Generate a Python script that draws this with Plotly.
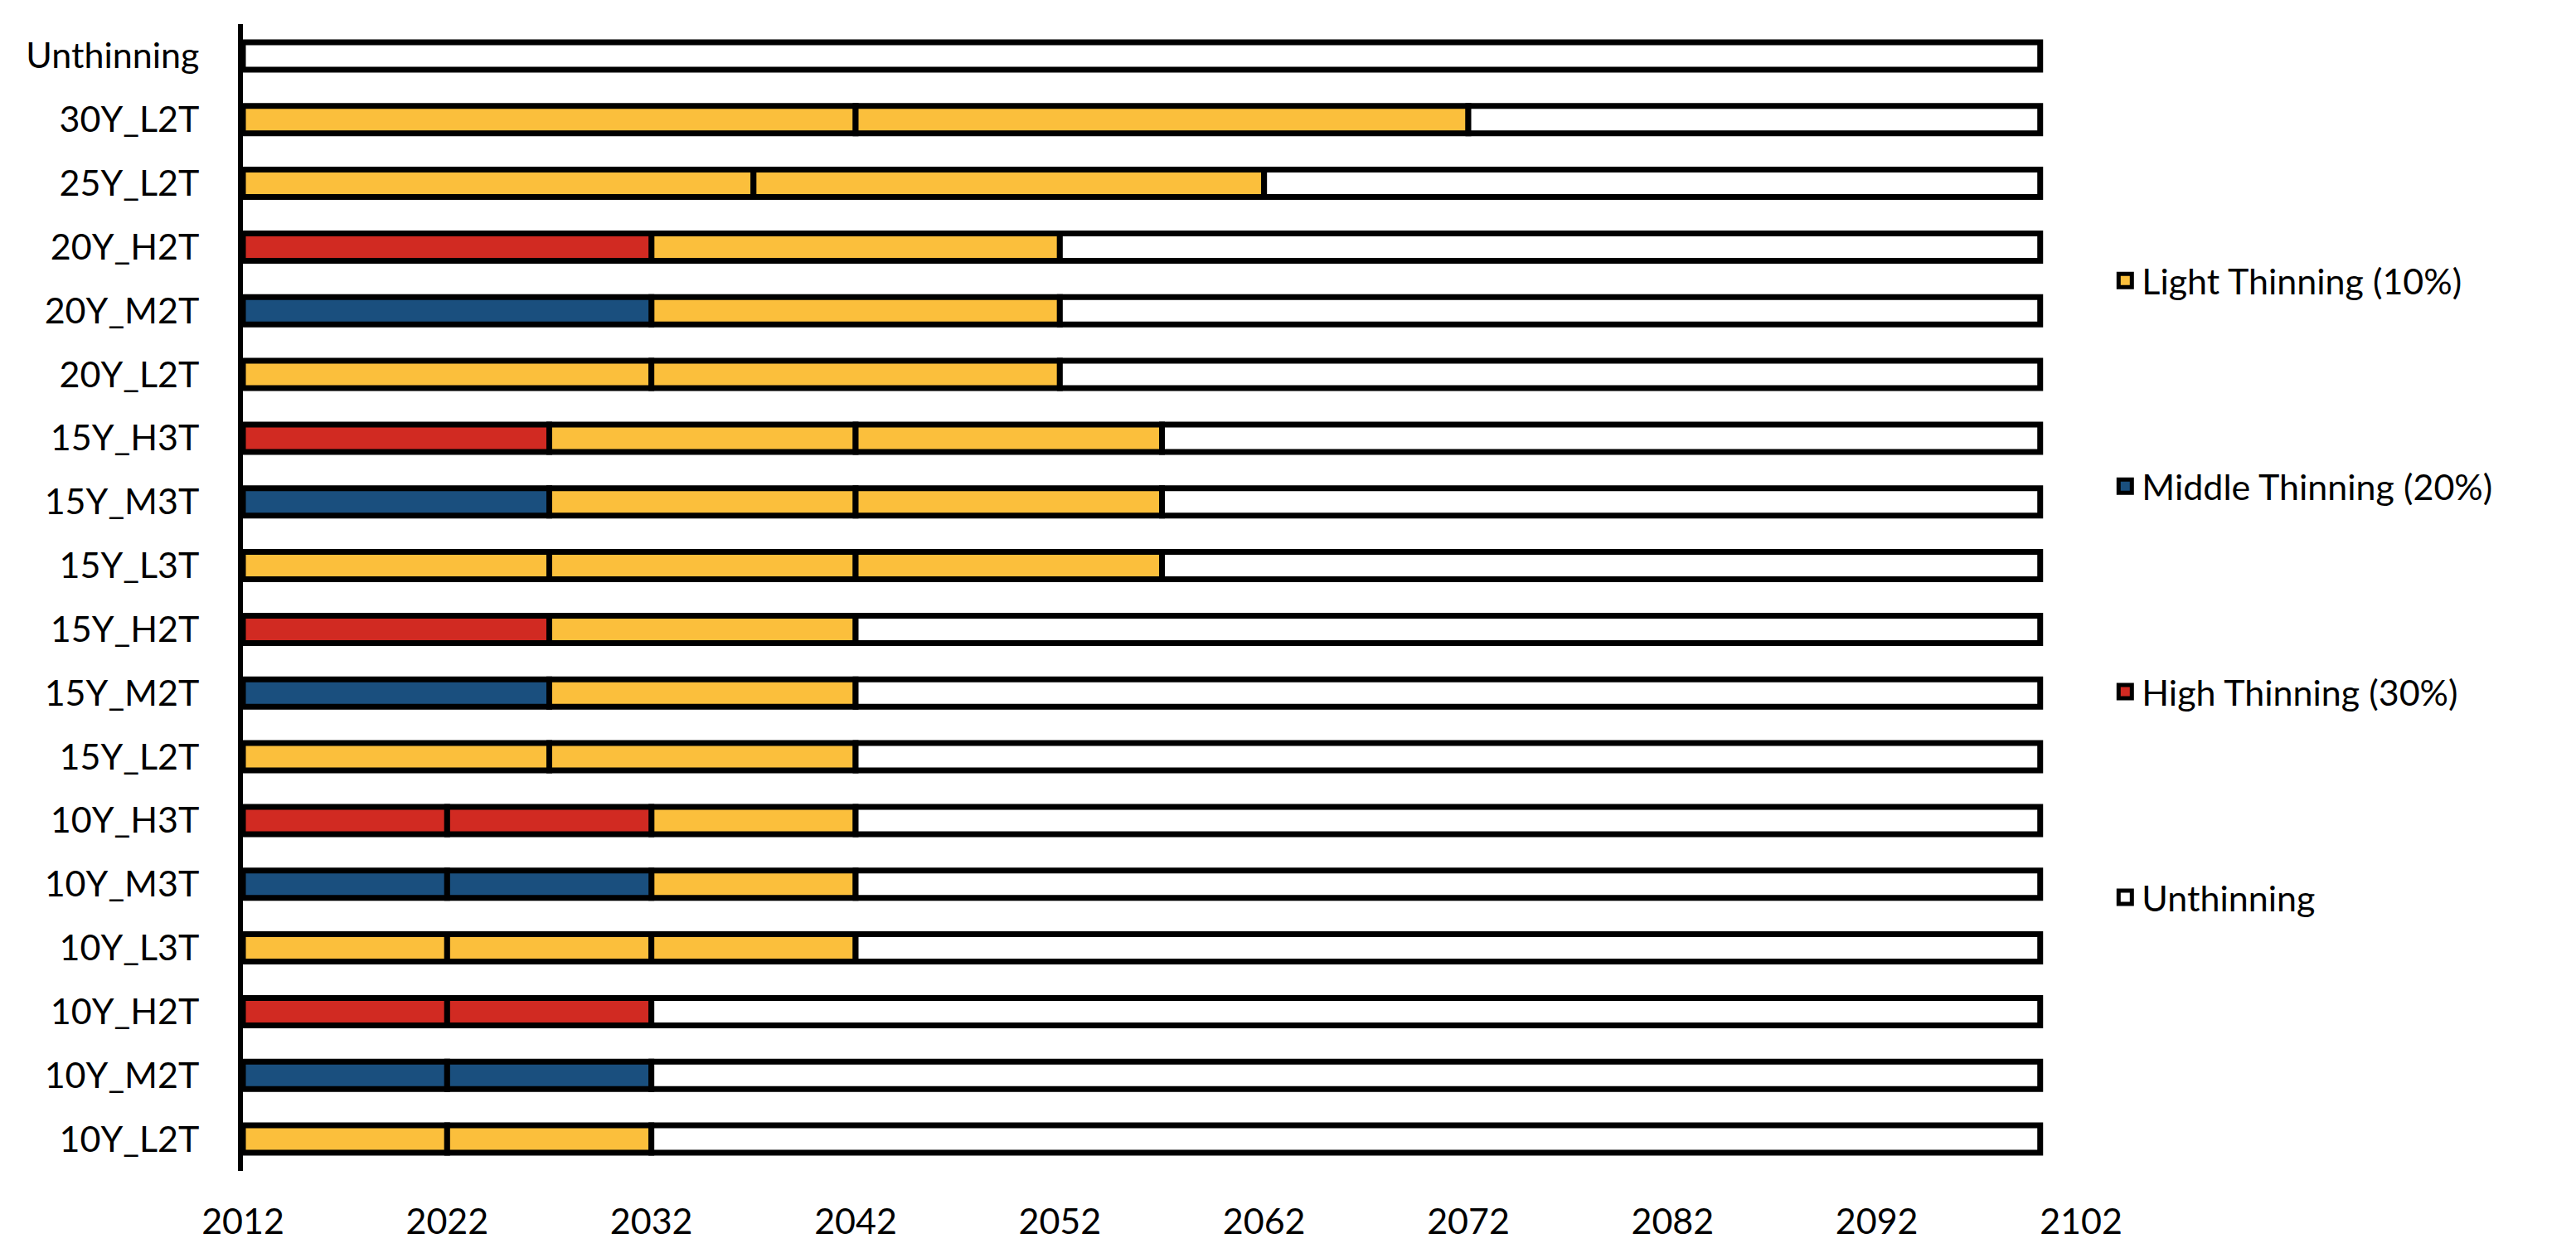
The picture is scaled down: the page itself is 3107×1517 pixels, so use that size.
import plotly.graph_objects as go

# ---- data ----
scenarios = ["10Y_L2T", "10Y_M2T", "10Y_H2T", "10Y_L3T", "10Y_M3T", "10Y_H3T",
             "15Y_L2T", "15Y_M2T", "15Y_H2T", "15Y_L3T", "15Y_M3T", "15Y_H3T",
             "20Y_L2T", "20Y_M2T", "20Y_H2T", "25Y_L2T", "30Y_L2T", "Unthinning"]

# length (years) of each consecutive segment, starting at start_year
segment_lengths = [
    [10, 10, 68],
    [10, 10, 68],
    [10, 10, 68],
    [10, 10, 10, 58],
    [10, 10, 10, 58],
    [10, 10, 10, 58],
    [15, 15, 58],
    [15, 15, 58],
    [15, 15, 58],
    [15, 15, 15, 43],
    [15, 15, 15, 43],
    [15, 15, 15, 43],
    [20, 20, 48],
    [20, 20, 48],
    [20, 20, 48],
    [25, 25, 38],
    [30, 30, 28],
    [88],
]
# regime of each segment: L light, M middle, H high, U unthinned
segment_regimes = ["LLU", "MMU", "HHU", "LLLU", "MMLU", "HHLU",
                   "LLU", "MLU", "HLU", "LLLU", "MLLU", "HLLU",
                   "LLU", "MLU", "HLU", "LLU", "LLU", "U"]

start_year = 2012
x_ticks = [2012, 2022, 2032, 2042, 2052, 2062, 2072, 2082, 2092, 2102]

regime_codes = ["L", "M", "H", "U"]
regime_names = ["Light Thinning (10%)", "Middle Thinning (20%)",
                "High Thinning (30%)", "Unthinning"]
regime_colors = ["#FBBF3C", "#1A4F7E", "#D12A22", "#FFFFFF"]

FONT = "Lato, Carlito, Calibri, sans-serif"
FS = 43

fig = go.Figure()
for code, name, color in zip(regime_codes, regime_names, regime_colors):
    ys, xs, bases = [], [], []
    for scen, lens, regs in zip(scenarios, segment_lengths, segment_regimes):
        pos = start_year
        for ln, rg in zip(lens, regs):
            if rg == code:
                ys.append(scen)
                xs.append(ln)
                bases.append(pos)
            pos += ln
    fig.add_trace(go.Bar(
        y=ys, x=xs, base=bases, orientation="h", name=name,
        showlegend=False, width=0.43,
        marker=dict(color=color, line=dict(color="black", width=7)),
    ))

# legend entries (square swatches with thick black border)
for name, color in zip(regime_names, regime_colors):
    fig.add_trace(go.Scatter(
        x=[None], y=[None], mode="markers", name=name, legendgroup=name,
        marker=dict(symbol="square", size=24, color=color,
                    line=dict(color="black", width=6)),
    ))

fig.update_layout(
    width=3107, height=1517,
    margin=dict(l=285, r=605, t=21, b=113, autoexpand=False),
    barmode="overlay",
    plot_bgcolor="white", paper_bgcolor="white",
    font=dict(family=FONT, size=FS, color="black"),
    showlegend=True,
    legend=dict(
        xref="container", yref="container", x=0.816, y=0.805,
        xanchor="left", yanchor="top", maxheight=1400,
        traceorder="grouped", tracegroupgap=189,
        font=dict(family=FONT, size=FS, color="black"),
        bgcolor="rgba(0,0,0,0)", itemwidth=30, itemsizing="trace",
    ),
)
fig.update_xaxes(
    range=[2012, 2102], tickvals=x_ticks, ticktext=[str(t) for t in x_ticks],
    showgrid=False, zeroline=False, showline=False, ticks="",
    ticklabelstandoff=32, tickfont=dict(family=FONT, size=FS, color="black"),
)
fig.update_yaxes(
    categoryorder="array", categoryarray=scenarios, range=[-0.5, 17.5],
    showgrid=False, zeroline=False, showline=True, linecolor="black", linewidth=6,
    ticks="", ticklabelstandoff=38, tickfont=dict(family=FONT, size=FS, color="black"),
)

fig.write_html("out.html")
